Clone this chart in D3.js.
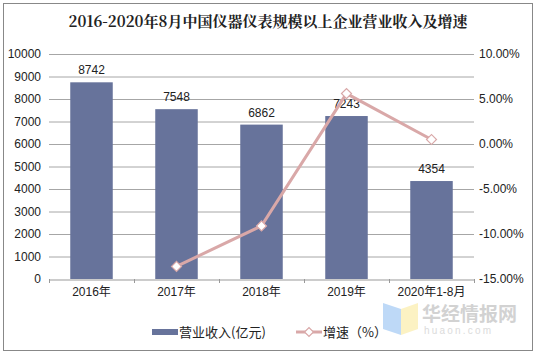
<!DOCTYPE html>
<html><head><meta charset="utf-8">
<script src="https://cdn.jsdelivr.net/npm/d3@7"></script>
<style>body{margin:0;background:#fff}svg{display:block}</style>
</head><body><svg id="c" width="537" height="356"></svg>
<script>
const categories = ["2016年","2017年","2018年","2019年","2020年1-8月"];
const revenue = [8742, 7548, 6862, 7243, 4354];
const growth = [null, -13.6, -9.1, 5.6, 0.5];
const leftTicks = [0,1000,2000,3000,4000,5000,6000,7000,8000,9000,10000];
const rightTicks = [-15,-10,-5,0,5,10];
const title = "2016-2020年8月中国仪器仪表规模以上企业营业收入及增速";
const legendLabels = ["营业收入(亿元)", "增速（%）"];

const svg = d3.select("#c");
const font = "'Liberation Sans', Arial, 'Noto Sans CJK SC', sans-serif";
const L = 49, R = 474, T = 54, B = 279;
const barColor = "#67739b", lineColor = "#d9a8a8";

svg.append("rect").attr("x",3.5).attr("y",3.5).attr("width",529).attr("height",347)
  .attr("fill","#fff").attr("stroke","#888").attr("stroke-width",1);

svg.append("text").attr("x",268).attr("y",27).attr("text-anchor","middle")
  .attr("font-family","'Noto Serif CJK SC','Noto Sans CJK SC',serif").attr("font-weight","bold")
  .attr("font-size",15).attr("fill","#222").text(title);

const x = d3.scaleBand().domain(categories).range([L,R]).paddingInner(0.5).paddingOuter(0.25);
const xc = d3.scaleBand().domain(categories).range([L,R]);
const y = d3.scaleLinear().domain([0,10000]).range([B,T]);
const y2 = d3.scaleLinear().domain([-15,10]).range([B,T]);

// gridlines
svg.append("g").selectAll("line").data(leftTicks.filter(d=>d>0)).join("line")
  .attr("x1",L).attr("x2",R).attr("y1",d=>y(d)+0.5).attr("y2",d=>y(d)+0.5)
  .attr("stroke","#a6a6a6").attr("stroke-width",1);

// left axis
const gl = svg.append("g").attr("transform",`translate(${L},0)`)
  .call(d3.axisLeft(y).tickValues(leftTicks).tickSize(0).tickPadding(8).tickFormat(d3.format("d")));
gl.select(".domain").remove();
gl.selectAll("text").attr("font-family",font).attr("font-size",12).attr("fill","#222");

// right axis
const gr = svg.append("g").attr("transform",`translate(${R},0)`)
  .call(d3.axisRight(y2).tickValues(rightTicks).tickSize(0).tickPadding(5).tickFormat(d=>d.toFixed(2)+"%"));
gr.select(".domain").remove();
gr.selectAll("text").attr("font-family",font).attr("font-size",12).attr("fill","#222");

// bars
svg.append("g").selectAll("rect").data(revenue).join("rect")
  .attr("x",(d,i)=>x(categories[i])).attr("width",x.bandwidth())
  .attr("y",d=>y(d)).attr("height",d=>B-y(d)).attr("fill",barColor);

// x axis
const gx = svg.append("g").attr("transform",`translate(0,${B+0.5})`)
  .call(d3.axisBottom(xc).tickSize(0).tickPadding(8));
gx.select(".domain").attr("stroke","#999");
gx.selectAll("text").attr("font-family",font).attr("font-size",12).attr("fill","#222");
svg.append("g").selectAll("line").data(d3.range(categories.length+1)).join("line")
  .attr("x1",i=>L+i*xc.step()+0.5).attr("x2",i=>L+i*xc.step()+0.5)
  .attr("y1",B).attr("y2",B+4).attr("stroke","#999");

// data labels
svg.append("g").selectAll("text").data(revenue).join("text")
  .attr("x",(d,i)=>x(categories[i])+x.bandwidth()/2).attr("y",d=>y(d)-8)
  .attr("text-anchor","middle").attr("font-family",font).attr("font-size",12).attr("fill","#222")
  .text(d=>d);

// growth line
const pts = growth.map((g,i)=>({g,c:categories[i]})).filter(d=>d.g!==null);
const line = d3.line().x(d=>xc(d.c)+xc.bandwidth()/2).y(d=>y2(d.g));
svg.append("path").datum(pts).attr("d",line).attr("fill","none")
  .attr("stroke",lineColor).attr("stroke-width",3);
const diamond = d3.symbol().type(d3.symbolDiamond2 || d3.symbolSquare).size(50);
svg.append("g").selectAll("path").data(pts).join("path")
  .attr("transform",d=>`translate(${xc(d.c)+xc.bandwidth()/2},${y2(d.g)}) rotate(45)`)
  .attr("d",d3.symbol().type(d3.symbolSquare).size(50)())
  .attr("fill","#fff").attr("stroke",lineColor).attr("stroke-width",1.2);

// legend
const lg = svg.append("g");
lg.append("rect").attr("x",152).attr("y",329).attr("width",26).attr("height",6).attr("fill",barColor);
lg.append("text").attr("x",179).attr("y",337).attr("font-family","'Noto Sans CJK SC',sans-serif")
  .attr("font-size",13).attr("fill","#222").text(legendLabels[0]);
lg.append("line").attr("x1",296).attr("x2",322).attr("y1",332).attr("y2",332)
  .attr("stroke",lineColor).attr("stroke-width",3);
lg.append("path").attr("transform","translate(309,332) rotate(45)")
  .attr("d",d3.symbol().type(d3.symbolSquare).size(40)())
  .attr("fill","#fff").attr("stroke",lineColor).attr("stroke-width",1.2);
lg.append("text").attr("x",323).attr("y",337).attr("font-family","'Noto Sans CJK SC',sans-serif")
  .attr("font-size",13).attr("fill","#222").text(legendLabels[1]);

// watermark
const wm = svg.append("g").attr("opacity",0.75);
wm.append("path").attr("d","M383,303 L401,309 L401,335 L383,329 Z").attr("fill","#a9cdf5");
wm.append("path").attr("d","M401,309 L418,303 L418,329 L401,335 Z").attr("fill","#fbeeb0");
wm.append("text").attr("x",422).attr("y",321).attr("font-family","'Noto Sans CJK SC',sans-serif")
  .attr("font-weight","bold").attr("font-size",19).attr("fill","#c4c4c4").text("华经情报网");
wm.append("text").attr("x",424).attr("y",334).attr("font-family",font)
  .attr("font-size",10).attr("letter-spacing",2.2).attr("fill","#d0d0d0").text("huaon.com");
</script></body></html>
